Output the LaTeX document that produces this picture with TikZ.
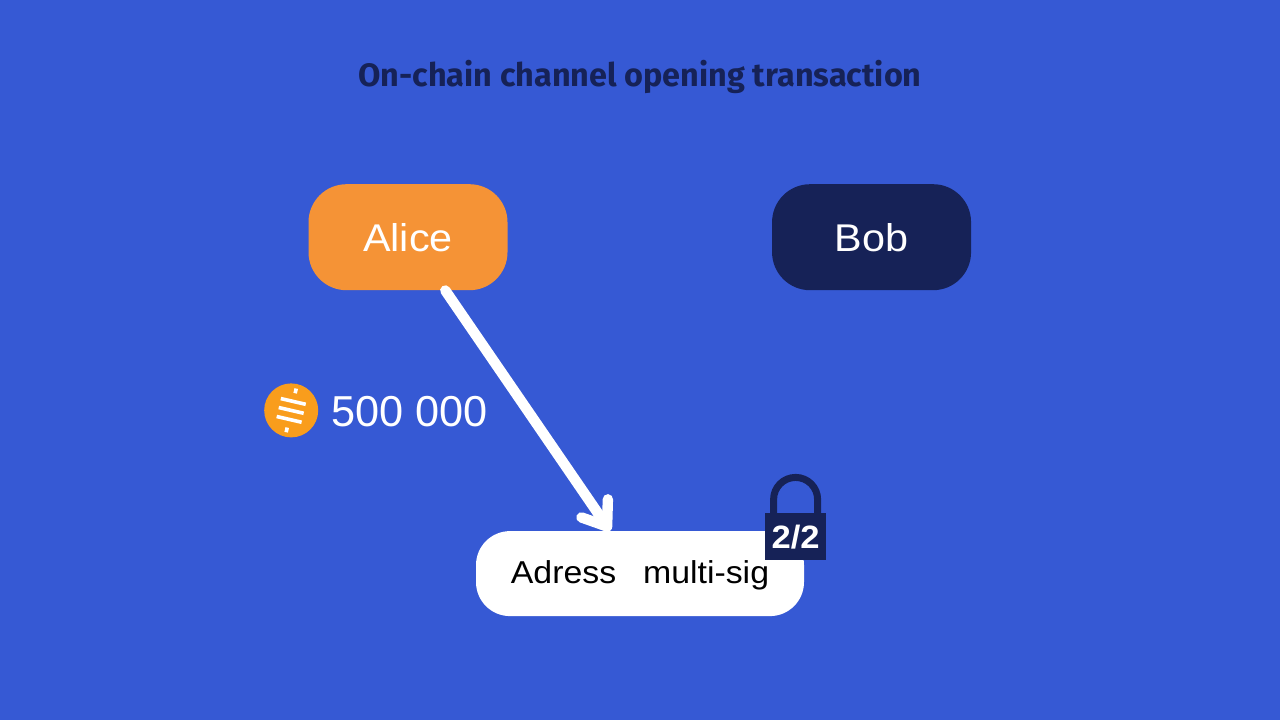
\documentclass[tikz,border=0pt]{standalone}
\usepackage{fontspec}
\setmainfont{Liberation Sans}
\newfontfamily\widefont[FakeStretch=1.07]{Liberation Sans}
\newfontfamily\titlefont{Fira Sans}
\usepackage{tikz}
\usetikzlibrary{arrows.meta,positioning}
\definecolor{bgblue}{RGB}{54,89,212}
\definecolor{deepnavy}{RGB}{22,34,87}
\definecolor{aliceorange}{RGB}{245,147,54}
\definecolor{coinorange}{RGB}{249,157,28}

\begin{document}
\begin{tikzpicture}[
  node distance=66mm and 66mm,
  party/.style={
    rounded corners=9.5mm,
    minimum width=49.75mm,
    minimum height=26.5mm,
    text=white,
    align=center,
    font=\widefont\fontsize{27.5}{30}\selectfont
  },
  arrow/.style={-{Straight Barb[round,length=5.5mm,width=8mm]},line width=2.6mm,draw=white,line cap=round},
  coinbar/.style={draw=white,line width=0.9mm}
]
\fill[bgblue] (0,0) rectangle (32,18);
\useasboundingbox (0,0) rectangle (32,18);
\node[font=\titlefont\bfseries\fontsize{23.05}{28}\selectfont, text=deepnavy] (title) at (16,16.08) {On-chain channel opening transaction};
\node[party, fill=aliceorange] (alice) at (10.2,12.07) {Alice};
\node[party, fill=deepnavy, right=of alice] (bob) {Bob};
\node[fill=white, rounded corners=8.5mm, minimum width=82mm, minimum height=21.25mm, text height=5mm, text depth=0pt, font=\widefont\fontsize{22.5}{26}\selectfont] (address) at (16,3.66) {Adress\hspace{0.85em}multi-sig};
\node[circle, fill=coinorange, minimum size=13.5mm, inner sep=0pt] (coin) at (7.28,7.74) {};
\node[right=2mm of coin, yshift=-0.25mm, text=white, font=\fontsize{30.8}{34}\selectfont] (amount) {500 000};
\node[fill=deepnavy, minimum width=15.25mm, minimum height=11.75mm, inner sep=0pt, text=white, font=\widefont\bfseries\fontsize{23}{24}\selectfont] (lock) at (19.89,4.58) {2/2};
% padlock ring
\draw[deepnavy, line width=1.75mm] ([xshift=-5.5mm]lock.north) -- ++(0,3.4mm) arc[start angle=180,end angle=0,radius=5.5mm] -- ++(0,-3.4mm);
% coin strokes
\begin{scope}[shift={(coin.center)},rotate=-13]
  \foreach \dy in {-2.3,0,2.3} \draw[coinbar] (-3.2mm,\dy mm) -- (3.2mm,\dy mm);
  \draw[coinbar] (0,4.4mm) -- (0,5.6mm);
  \draw[coinbar] (0,-4.4mm) -- (0,-5.6mm);
\end{scope}
\draw[arrow] (alice.-55) -- (address.125);
\end{tikzpicture}
\end{document}
